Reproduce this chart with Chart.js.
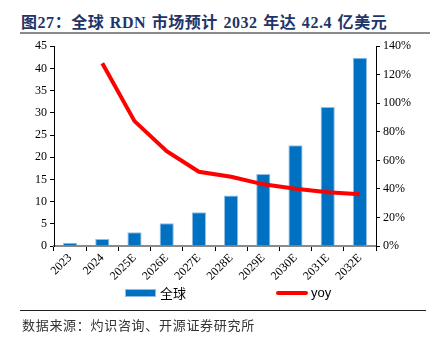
<!DOCTYPE html>
<html>
<head>
<meta charset="utf-8">
<script src="https://cdn.jsdelivr.net/npm/chart.js@4.4.1/dist/chart.umd.min.js"></script>
<style>
  body{margin:0;width:430px;height:337px;background:#fff;position:relative;overflow:hidden}
  .title{position:absolute;left:21px;top:9px;font:bold 16px "Liberation Serif","Noto Sans CJK SC";color:#1f3468;white-space:nowrap;letter-spacing:0.55px;word-spacing:1px}
  .rule{position:absolute;left:20px;right:0;top:32px;height:2px;background:#8a8a8a}
  .box{position:absolute;left:0;top:36px;width:430px;height:250px}
  .legend{position:absolute;top:285px;left:0;width:430px;height:16px;font:13px "Noto Sans CJK SC","Liberation Sans";color:#000}
  .legend span{position:absolute;top:0;line-height:16px}
  .sw{position:absolute}
  .foot-rule{position:absolute;left:20px;right:4px;top:310px;height:1px;background:#222}
  .source{position:absolute;left:22px;top:315px;font:13px "Noto Sans CJK SC";color:#333;letter-spacing:0.7px}
</style>
</head>
<body>
<div class="title">图27：全球 RDN 市场预计 2032 年达 42.4 亿美元</div>
<div class="rule"></div>
<div class="box"><canvas id="c"></canvas></div>
<div class="legend" id="legend"></div>
<div class="foot-rule"></div>
<div class="source">数据来源：灼识咨询、开源证券研究所</div>
<script>
const years = ['2023','2024','2025E','2026E','2027E','2028E','2029E','2030E','2031E','2032E'];
const marketSize = [0.75, 1.6, 3.1, 5.1, 7.6, 11.4, 16.2, 22.7, 31.3, 42.4];
const yoy = [null, 128, 87.5, 66.5, 52, 48.5, 43.2, 40.1, 37.6, 36.2];
const leftTicks = [0, 45, 5];
const rightTicks = [0, 140, 20];

const serif = {family:'"Liberation Serif", serif', size:12};

function fixW(w){ return s => { s.width = w; }; }

new Chart(document.getElementById('c'), {
  type:'bar',
  data:{
    labels: years,
    datasets:[
      {type:'line', label:'yoy', data:yoy, yAxisID:'y1', borderColor:'#ff0000', backgroundColor:'#ff0000',
       borderWidth:4, pointRadius:0, tension:0, order:0},
      {type:'bar', label:'全球', data:marketSize, yAxisID:'y', backgroundColor:'#0070c0',
       borderColor:'#8fbde6', borderWidth:1, borderSkipped:'bottom',
       categoryPercentage:1, barPercentage:0.44, order:1}
    ]
  },
  options:{
    responsive:true, maintainAspectRatio:false, animation:false,
    layout:{padding:{top:10, left:0, right:0, bottom:0}},
    plugins:{legend:{display:false}, tooltip:{enabled:false}},
    scales:{
      x:{
        offset:true,
        grid:{display:true, drawOnChartArea:false, drawTicks:true, tickLength:5, color:'#000', offset:true},
        border:{color:'#8a8a8a', width:2},
        ticks:{font:serif, color:'#000', minRotation:45, maxRotation:45, padding:0},
        afterFit: s => { s.height = 40; }
      },
      y:{
        position:'left', min:leftTicks[0], max:leftTicks[1],
        grid:{display:true, drawOnChartArea:false, drawTicks:true, tickLength:4, color:'#000'},
        border:{color:'#000', width:1},
        ticks:{stepSize:leftTicks[2], font:serif, color:'#000', padding:3},
        afterFit: fixW(54)
      },
      y1:{
        position:'right', min:rightTicks[0], max:rightTicks[1],
        grid:{display:true, drawOnChartArea:false, drawTicks:true, tickLength:4, color:'#000'},
        border:{color:'#000', width:1},
        ticks:{stepSize:rightTicks[2], font:serif, color:'#000', padding:3, callback:v=>v+'%'},
        afterFit: fixW(54)
      }
    }
  }
});

// legend
const lg = document.getElementById('legend');
lg.innerHTML =
  '<div class="sw" style="left:125px;top:4px;width:31px;height:8px;background:#0070c0;box-shadow:inset 0 0 0 1px #8fbde6"></div>'+
  '<span style="left:160px">全球</span>'+
  '<div class="sw" style="left:276px;top:6px;width:32px;height:4px;border-radius:2px;background:#ff0000"></div>'+
  '<span style="left:311px;font-family:\'Liberation Sans\'">yoy</span>';
</script>
</body>
</html>
